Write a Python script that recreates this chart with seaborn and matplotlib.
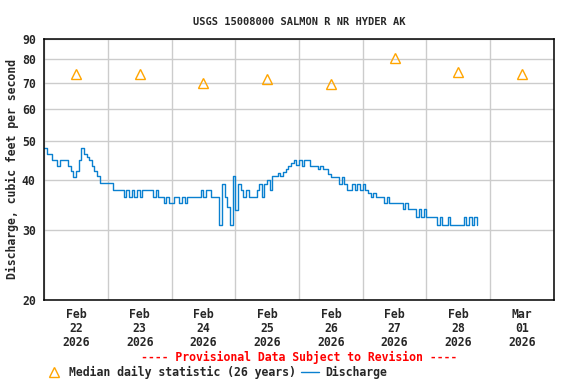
import pandas as pd
import matplotlib
matplotlib.use("Agg")
import matplotlib.pyplot as plt
import matplotlib.dates as mdates
from matplotlib.lines import Line2D
from matplotlib.ticker import FixedLocator, NullLocator, FuncFormatter
import seaborn as sns

# Hourly discharge (cfs), starting Feb 22 2026 00:00
discharge = [
    48.0, 46.3, 46.3, 44.8, 44.8, 43.3, 44.8, 44.8, 44.8, 43.3, 42.0, 40.7,
    42.0, 44.8, 48.0, 46.3, 45.5, 44.8, 43.3, 42.0, 40.8, 39.3, 39.3, 39.3,
    39.3, 39.3, 37.6, 37.6, 37.6, 37.6, 36.3, 37.6, 36.3, 37.6, 36.3, 37.6,
    36.3, 37.6, 37.6, 37.6, 37.6, 36.3, 37.6, 36.3, 36.3, 35.0, 36.3, 35.0,
    35.0, 36.3, 36.3, 35.0, 36.3, 35.0, 36.3, 36.3, 36.3, 36.3, 36.3, 37.6,
    36.3, 37.6, 37.6, 36.3, 36.3, 36.3, 30.8, 39.0, 36.3, 34.2, 30.8, 40.8,
    33.5, 39.0, 37.6, 36.3, 37.6, 36.3, 36.3, 36.3, 37.6, 39.0, 36.3, 39.0,
    40.0, 37.7, 40.8, 40.8, 41.5, 40.8, 41.8, 42.6, 43.3, 44.0, 44.8, 43.5,
    44.8, 43.3, 44.8, 44.8, 43.3, 43.3, 43.3, 42.5, 43.3, 42.5, 42.5, 41.3,
    40.7, 40.7, 40.7, 39.0, 40.7, 39.0, 37.7, 37.7, 39.0, 37.7, 39.0, 37.7,
    39.0, 37.7, 37.0, 36.3, 37.0, 36.3, 36.3, 36.3, 35.0, 36.3, 35.0, 35.0,
    35.0, 35.0, 35.0, 33.8, 35.0, 33.7, 33.7, 33.7, 32.2, 33.7, 32.2, 33.7,
    32.2, 32.2, 32.2, 32.2, 30.8, 32.2, 30.8, 30.8, 32.2, 30.8, 30.8, 30.8,
    30.8, 30.8, 32.2, 30.8, 32.2, 30.8, 32.2, 30.8,
]
times = pd.date_range("2026-02-22 00:00", periods=len(discharge), freq="h")

# Median daily statistic, plotted at noon of each day
median_days = pd.date_range("2026-02-22 12:00", periods=8, freq="D")
median_vals = [73.4, 73.4, 69.8, 71.3, 69.4, 80.5, 74.3, 73.5]

y_ticks = [20, 30, 40, 50, 60, 70, 80, 90]

df = pd.DataFrame({"time": times, "cfs": discharge})
med = pd.DataFrame({"time": median_days, "cfs": median_vals})

sns.set_style("white")
plt.rcParams["font.family"] = ["DejaVu Sans Mono"]
plt.rcParams["font.weight"] = "bold"

line_color = "#0a80d0"
tri_color = "#FFA500"

fig = plt.figure(figsize=(5.76, 3.84), dpi=100)
ax = fig.add_axes([0.0764, 0.2188, 0.8854, 0.6796])

sns.lineplot(data=df, x="time", y="cfs", ax=ax, color=line_color,
             linewidth=1.0, drawstyle="steps-post")
sns.lineplot(data=med, x="time", y="cfs", ax=ax, color=tri_color,
             linestyle="", marker="^", markersize=7, markerfacecolor="none",
             markeredgecolor=tri_color, markeredgewidth=1.0)

ax.set_yscale("log")
ax.set_ylim(20, 90)
ax.yaxis.set_major_locator(FixedLocator(y_ticks))
ax.yaxis.set_minor_locator(NullLocator())
ax.yaxis.set_major_formatter(FuncFormatter(lambda v, p: f"{v:.0f}"))

ax.set_xlim(pd.Timestamp("2026-02-22"), pd.Timestamp("2026-03-02"))
ax.xaxis.set_major_locator(mdates.HourLocator(byhour=[12]))
ax.xaxis.set_major_formatter(mdates.DateFormatter("%b\n%d\n%Y"))
ax.xaxis.set_minor_locator(mdates.DayLocator())

ax.grid(False)
ax.grid(True, axis="y", which="major", color="#cccccc", linewidth=1.0)
ax.grid(True, axis="x", which="minor", color="#cccccc", linewidth=1.0)
ax.set_axisbelow(True)
for s in ax.spines.values():
    s.set_color("black")
    s.set_linewidth(1.1)

ax.tick_params(axis="both", which="both", length=0, labelsize=8.3)
ax.tick_params(axis="x", pad=6)
ax.tick_params(axis="y", pad=6)
for lab in ax.get_xticklabels() + ax.get_yticklabels():
    lab.set_fontweight("bold")
    lab.set_linespacing(1.1)

ax.set_xlabel("")
ax.set_ylabel("Discharge, cubic feet per second", fontsize=8.3,
              fontweight="bold", labelpad=2)
ax.set_title("USGS 15008000 SALMON R NR HYDER AK", fontsize=7.5,
             fontweight="bold", pad=10)

fig.text(0.519, 0.068, "---- Provisional Data Subject to Revision ----",
         color="red", fontsize=8.3, fontweight="bold", ha="center", va="center")

handles = [
    Line2D([], [], linestyle="", marker="^", markersize=7,
           markerfacecolor="none", markeredgecolor=tri_color, markeredgewidth=1.0),
    Line2D([], [], color=line_color, linewidth=1.0),
]
fig.legend(handles, ["Median daily statistic (26 years)", "Discharge"],
           loc="center left", bbox_to_anchor=(0.078, 0.029), ncol=2, frameon=False,
           fontsize=8.3, handlelength=1.6, handletextpad=0.5, columnspacing=0.4,
           borderpad=0, borderaxespad=0)

fig.savefig("out.png", dpi=100)
